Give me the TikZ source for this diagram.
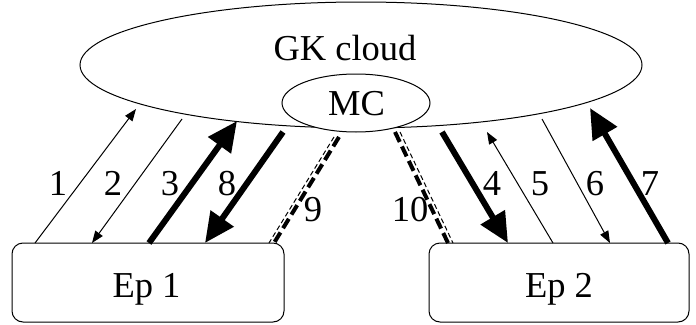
\documentclass[tikz,border=0pt]{standalone}
\usepackage{fontspec}
\setmainfont{Liberation Serif}
\usetikzlibrary{arrows.meta,shapes.geometric}
\begin{document}
\begin{tikzpicture}[x=1pt,y=-1pt,
  txt/.style={font=\fontsize{36.5}{36.5}\selectfont, inner sep=0pt, anchor=base},
  thinarrow/.style={line width=1pt, -{Triangle[length=12pt,width=9pt]}},
  thickarrow/.style={line width=6pt, -{Triangle[length=30pt,width=27pt]}},
  thickdash/.style={line width=4pt, dash pattern=on 11pt off 5pt},
  thindash/.style={line width=1pt, dash pattern=on 5pt off 3pt},
  endpoint/.style={line width=1pt, rounded corners=11pt, draw}]
\useasboundingbox (0,0) rectangle (696,324);
% cloud and the MC inside it
\node[draw, ellipse, line width=1pt, minimum width=562pt, minimum height=126pt] (cloud) at (361,65) {};
\node[txt] (gk) at (345,60) {GK cloud};
\node[draw, ellipse, line width=1pt, fill=white, minimum width=148pt, minimum height=58pt] (mc) at (356,103) {};
\node[txt] (mctxt) at (356.5,115) {MC};
% endpoints
\node[endpoint, minimum width=272pt, minimum height=79pt] (ep1) at (148,282.5) {};
\node[endpoint, minimum width=260pt, minimum height=79pt] (ep2) at (559,282.5) {};
\node[txt] (ep1txt) at (146.5,297) {Ep 1};
\node[txt] (ep2txt) at (559,297) {Ep 2};
% attachment points on the cloud
\coordinate (c1) at (136,109);
\coordinate (c2) at (182,119);
\coordinate (c3) at (237,121);
\coordinate (c8) at (283,132);
\coordinate (c9) at (337,137);
\coordinate (c10) at (397,132);
\coordinate (c4) at (442,132);
\coordinate (c5) at (487,132);
\coordinate (c6) at (542,119);
\coordinate (c7) at (590,108);
% attachment points on the endpoints
\coordinate (e1) at (35,243);
\coordinate (e2) at (92,243);
\coordinate (e3) at (149,243);
\coordinate (e8) at (205,243);
\coordinate (e9) at (272,243);
\coordinate (e10) at (450,243);
\coordinate (e4) at (508,243);
\coordinate (e5) at (553,243);
\coordinate (e6) at (610,243);
\coordinate (e7) at (668,243);
% messages
\draw[thinarrow] (e1) -- (c1);
\draw[thinarrow] (c2) -- (e2);
\draw[thickarrow] (e3) -- (c3);
\draw[thickarrow] (c8) -- (e8);
\draw[thickdash] ([xshift=2pt]c9) -- ([xshift=2pt]e9);
\draw[thindash] ([xshift=-3pt]c9) -- ([xshift=-3pt]e9);
\draw[thickdash] ([xshift=-2pt]c10) -- ([xshift=-2pt]e10);
\draw[thindash] ([xshift=3pt]c10) -- ([xshift=3pt]e10);
\draw[thickarrow] (c4) -- (e4);
\draw[thinarrow] (e5) -- (c5);
\draw[thinarrow] (c6) -- (e6);
\draw[thickarrow] (e7) -- (c7);
% labels
\node[txt] at (58,195) {1};
\node[txt] at (113,195) {2};
\node[txt] at (170,195) {3};
\node[txt] at (227,195) {8};
\node[txt] at (313,221) {9};
\node[txt] at (410,221) {10};
\node[txt] at (492,195) {4};
\node[txt] at (540,195) {5};
\node[txt] at (595,195) {6};
\node[txt] at (650,195) {7};
\end{tikzpicture}
\end{document}
